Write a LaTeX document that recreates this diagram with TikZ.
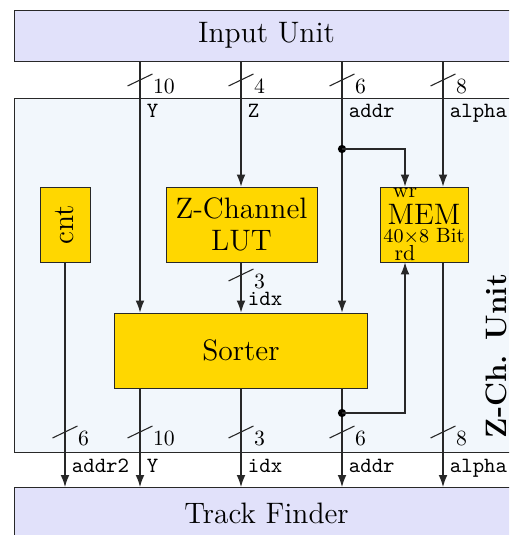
\documentclass[tikz,border=0pt]{standalone}
\usepackage{graphicx}
\usetikzlibrary{arrows.meta}
\definecolor{unitfill}{RGB}{225,225,250}
\definecolor{zchfill}{RGB}{242,247,252}
\definecolor{blockfill}{RGB}{255,215,0}
\definecolor{wiregray}{RGB}{40,40,40}
\begin{document}
\begin{tikzpicture}[x=0.46pt, y=-0.46pt,
    big/.style={font=\fontsize{13.6}{14.6}\selectfont},
    unit/.style={rectangle, draw=wiregray, fill=unitfill, minimum width=232.3pt, minimum height=23.5pt, inner sep=0pt, big},
    block/.style={rectangle, draw=wiregray, fill=blockfill, minimum height=34.5pt, inner sep=0pt, align=center, big},
    conn/.style={draw=wiregray, line width=0.5pt},
    sig/.style={conn, -{Latex[length=5.5pt,width=4pt]}},
    lbl/.style={anchor=north west, inner sep=3pt, font=\ttfamily},
    pics/bus/.style={code={\draw[conn] (-12.5,6) -- (12.5,-6) node[anchor=north west, inner sep=0pt, yshift=-2pt] {#1};}}]
    \useasboundingbox (0,0) rectangle (509,535);
    \clip (0,0) rectangle (509,535);

    % columns and rows
    \coordinate (cC) at (65,0);
    \coordinate (cY) at (140,0);
    \coordinate (cZ) at (241,0);
    \coordinate (cA) at (342,0);
    \coordinate (cW) at (405,0);
    \coordinate (cL) at (443,0);
    \coordinate (rIn) at (0,80);
    \coordinate (rLut) at (0,275);
    \coordinate (rOut) at (0,432);
    \coordinate (rWr) at (0,149);
    \coordinate (rRd) at (0,413);

    \node[rectangle, draw=wiregray, fill=zchfill, minimum width=232.3pt, minimum height=162.8pt] (zch) at (266.5,275) {};
    \node[unit] (input) at (266.5,35.5) {Input Unit};
    \node[unit] (track) at (266.5,513) {Track Finder};
    \node[block, minimum width=23pt] (cnt) at (65,224.5) {\rotatebox{90}{cnt}};
    \node[block, minimum width=69.5pt] (lut) at (241.5,224.5) {Z-Channel\\LUT};
    \node[block, minimum width=40.5pt] (mem) at (424,224.5) {};
    \node[block, minimum width=116pt] (sorter) at (241,350.5) {Sorter};
    \node[rotate=90, font=\fontsize{13.6}{14.6}\selectfont\bfseries] (zchname) at (496,356) {Z-Ch. Unit};

    % memory texts
    \node[big, anchor=base, inner sep=0pt] (memname) at (424,225) {MEM};
    \node[anchor=base, inner sep=0pt, font=\fontsize{9.5}{11}\selectfont] (memsize) at (424,242.7) {$40{\times}8$ Bit};
    \node[anchor=north, inner sep=0.5pt] (wr) at (mem.north -| cW) {wr};
    \node[anchor=south, inner sep=0.5pt] (rd) at (mem.south -| cW) {rd};

    % inputs
    \draw[sig] (input.south -| cY) -- (sorter.north -| cY);
    \draw[sig] (input.south -| cZ) -- (lut.north -| cZ);
    \draw[sig] (input.south -| cA) -- (sorter.north -| cA);
    \draw[sig] (input.south -| cL) -- (mem.north -| cL);
    \draw[sig] (lut.south -| cZ) -- (sorter.north -| cZ);

    % outputs
    \draw[sig] (cnt.south) -- (track.north -| cC);
    \draw[sig] (sorter.south -| cY) -- (track.north -| cY);
    \draw[sig] (sorter.south -| cZ) -- (track.north -| cZ);
    \draw[sig] (sorter.south -| cA) -- (track.north -| cA);
    \draw[sig] (mem.south -| cL) -- (track.north -| cL);

    % memory write and read
    \coordinate (wrtap) at (cA |- rWr);
    \coordinate (rdtap) at (cA |- rRd);
    \fill (wrtap) circle[radius=1.9pt];
    \fill (rdtap) circle[radius=1.9pt];
    \draw[sig] (wrtap) -| (mem.north -| cW);
    \draw[sig] (rdtap) -| (mem.south -| cW);

    % bus widths and signal names
    \foreach \col/\w in {cY/10, cZ/4, cA/6, cL/8}
        \pic at (\col |- rIn) {bus=\w};
    \foreach \col/\w in {cC/6, cY/10, cZ/3, cA/6, cL/8}
        \pic at (\col |- rOut) {bus=\w};
    \pic at (cZ |- rLut) {bus=3};
    \foreach \col/\name in {cY/Y, cZ/Z, cA/addr, cL/alpha}
        \node[lbl] (in-\name) at (\col |- zch.north) {\name};
    \foreach \col/\name in {cC/addr2, cY/Y, cZ/idx, cA/addr, cL/alpha}
        \node[lbl] (out-\name) at (\col |- zch.south) {\name};
    \node[lbl, anchor=south west] (idx-lut) at (sorter.north -| cZ) {idx};
\end{tikzpicture}
\end{document}
